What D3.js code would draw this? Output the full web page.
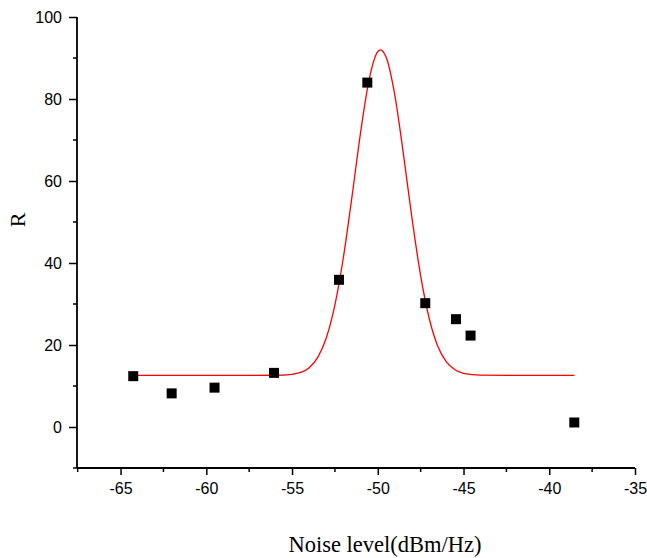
<!DOCTYPE html>
<html>
<head>
<meta charset="utf-8">
<script src="https://cdn.jsdelivr.net/npm/d3@7"></script>
<style>
    html, body { margin: 0; padding: 0; background: #fff; }
    #chart { width: 647px; height: 558px; }
</style>
</head>
<body>
<div id="chart"></div>
<script>
// measured points
var noiseLevel = [-64.26, -62.02, -59.52, -56.05, -52.26, -50.61, -47.23, -45.44, -44.59, -38.54];
var rValues    = [12.4, 8.2, 9.6, 13.2, 35.9, 84.0, 30.2, 26.3, 22.3, 1.1];

// fitted curve
var fitX = [-64.26, -58, -56, -55, -54.5, -54, -53.5, -53, -52.5, -52, -51.5, -51, -50.5, -50, -49.84,
            -49.5, -49, -48.5, -48, -47.5, -47, -46.5, -46, -45.5, -45, -44, -42, -38.54];
var fitY = [12.6, 12.6, 12.62, 12.85, 13.3, 14.47, 16.97, 21.75, 29.77, 41.53, 56.33, 71.94, 84.85, 91.56, 92.0,
            90.04, 80.76, 66.43, 50.76, 36.88, 26.46, 19.7, 15.86, 13.95, 13.1, 12.65, 12.6, 12.6];

var xTicks = [-65, -60, -55, -50, -45, -40, -35];
var xMinorTicks = [-67.5, -62.5, -57.5, -52.5, -47.5, -42.5, -37.5];
var yTicks = [0, 20, 40, 60, 80, 100];
var yMinorTicks = [-10, 10, 30, 50, 70, 90];

(function () {
    var width = 647, height = 558;
    var margin = { top: 17, right: 12, bottom: 90, left: 77 };

    var svg = d3.select('#chart')
        .append('svg')
        .attr('width', width)
        .attr('height', height);

    var x = d3.scaleLinear().domain([-67.54, -35]).range([margin.left, width - margin.right]);
    var y = d3.scaleLinear().domain([-10, 100]).range([height - margin.bottom, margin.top]);

    var font = 'Liberation Sans, Arial, sans-serif';
    var serif = 'Liberation Serif, Times New Roman, serif';

    // x axis
    var gx = svg.append('g')
        .attr('transform', 'translate(0,' + (height - margin.bottom) + ')')
        .call(d3.axisBottom(x).tickValues(xTicks).tickSize(7).tickPadding(8).tickFormat(String));
    gx.append('g').selectAll('line')
        .data(xMinorTicks)
        .enter().append('line')
        .attr('x1', function (d) { return x(d); })
        .attr('x2', function (d) { return x(d); })
        .attr('y1', 0).attr('y2', 4)
        .attr('stroke', '#000').attr('stroke-width', 1.5);

    // y axis
    var gy = svg.append('g')
        .attr('transform', 'translate(' + margin.left + ',0)')
        .call(d3.axisLeft(y).tickValues(yTicks).tickSize(8).tickPadding(7).tickFormat(String));
    gy.append('g').selectAll('line')
        .data(yMinorTicks)
        .enter().append('line')
        .attr('y1', function (d) { return y(d); })
        .attr('y2', function (d) { return y(d); })
        .attr('x1', 0).attr('x2', -4)
        .attr('stroke', '#000').attr('stroke-width', 1.5);

    [gx, gy].forEach(function (g) {
        g.select('.domain').remove();
        g.selectAll('.tick line').attr('stroke-width', 1.5);
        g.selectAll('.tick text')
            .attr('font-family', font)
            .attr('font-size', 16)
            .attr('fill', '#000');
    });

    // axis lines
    svg.append('line')
        .attr('x1', x(-67.54)).attr('x2', x(-35))
        .attr('y1', y(-10)).attr('y2', y(-10))
        .attr('stroke', '#000').attr('stroke-width', 1.8);
    svg.append('line')
        .attr('x1', x(-67.54)).attr('x2', x(-67.54))
        .attr('y1', y(-10)).attr('y2', y(100))
        .attr('stroke', '#000').attr('stroke-width', 1.8);

    // fitted curve
    var line = d3.line()
        .x(function (d, i) { return x(fitX[i]); })
        .y(function (d) { return y(d); })
        .curve(d3.curveMonotoneX);

    svg.append('path')
        .attr('d', line(fitY))
        .attr('fill', 'none')
        .attr('stroke', '#ff0000')
        .attr('stroke-width', 1.3);

    // square markers
    var sq = 10;
    svg.append('g').selectAll('rect')
        .data(rValues)
        .enter().append('rect')
        .attr('x', function (d, i) { return x(noiseLevel[i]) - sq / 2; })
        .attr('y', function (d) { return y(d) - sq / 2; })
        .attr('width', sq)
        .attr('height', sq)
        .attr('fill', '#000');

    // axis titles
    svg.append('text')
        .attr('x', 385)
        .attr('y', 552)
        .attr('text-anchor', 'middle')
        .attr('font-family', serif)
        .attr('font-size', 22.5)
        .attr('fill', '#000')
        .text('Noise level(dBm/Hz)');

    svg.append('text')
        .attr('transform', 'translate(25,220) rotate(-90)')
        .attr('text-anchor', 'middle')
        .attr('font-family', serif)
        .attr('font-size', 22)
        .attr('fill', '#000')
        .text('R');
})();
</script>
</body>
</html>
